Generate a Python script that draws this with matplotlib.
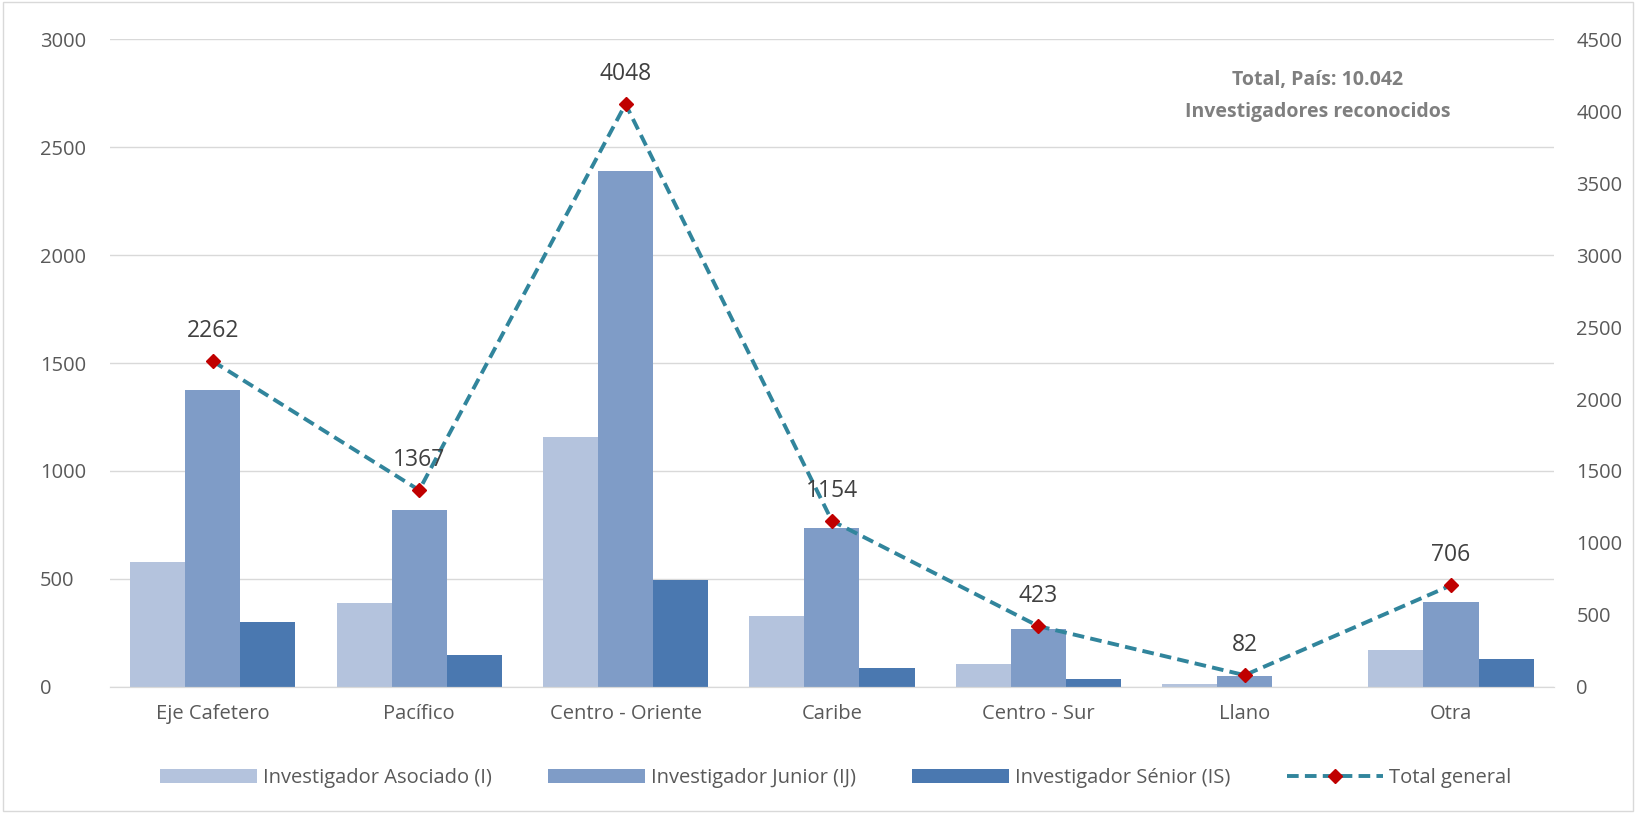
import matplotlib.pyplot as plt
import numpy as np

plt.rcParams['font.family'] = ['Open Sans', 'DejaVu Sans']

regiones = ['Eje Cafetero', 'Pacífico', 'Centro - Oriente', 'Caribe',
            'Centro - Sur', 'Llano', 'Otra']
asociado = [578, 388, 1159, 328, 108, 12, 172]
junior = [1377, 821, 2391, 734, 268, 52, 394]
senior = [299, 146, 495, 87, 38, 0, 128]
total = [2262, 1367, 4048, 1154, 423, 82, 706]

c_asoc = '#B4C3DD'
c_jun = '#7F9CC7'
c_sen = '#4A78B0'
gris = '#595959'

fig = plt.figure(figsize=(16.36, 8.13), dpi=100)
ax = fig.add_axes([0.067, 0.155, 0.883, 0.797])
ax2 = ax.twinx()

x = np.arange(len(regiones))
w = 0.267
b1 = ax.bar(x - w, asociado, w, color=c_asoc, label='Investigador Asociado (I)')
b2 = ax.bar(x, junior, w, color=c_jun, label='Investigador Junior (IJ)')
b3 = ax.bar(x + w, senior, w, color=c_sen, label='Investigador Sénior (IS)')

ln, = ax2.plot(x, total, linestyle=(0, (3, 1.6)), color='#31859C', linewidth=2.8,
               marker='D', markersize=7, markerfacecolor='#C00000',
               markeredgecolor='#C00000', label='Total general')
for xi, t in zip(x, total):
    ax2.annotate(str(t), (xi, t), xytext=(0, 13), textcoords='offset points',
                 ha='center', va='bottom', fontsize=16.5, color='#404040')

ax.set_xlim(-0.5, len(regiones) - 0.5)
ax.set_ylim(0, 3000)
ax.set_yticks(range(0, 3001, 500))
ax2.set_ylim(0, 4500)
ax2.set_yticks(range(0, 4501, 500))
ax.set_xticks(x)
ax.set_xticklabels(regiones)

ax.grid(axis='y', color='#D9D9D9', linewidth=1)
ax.set_axisbelow(True)
for a in (ax, ax2):
    for s in ['top', 'left', 'right']:
        a.spines[s].set_visible(False)
    a.spines['bottom'].set_color('#D9D9D9')
    a.tick_params(length=0, labelsize=14.5, colors=gris)
ax.tick_params(axis='x', pad=12)
ax.tick_params(axis='y', pad=50)
ax2.tick_params(axis='y', pad=16)
for lbl in ax.get_yticklabels():
    lbl.set_horizontalalignment('left')

ax2.text(0.836, 0.912, 'Total, País: 10.042\nInvestigadores reconocidos',
         transform=ax2.transAxes, ha='center', va='center', fontsize=14,
         fontweight='bold', color='#7F7F7F', linespacing=1.75)

fig.legend(handles=[b1, b2, b3, ln], loc='center', bbox_to_anchor=(0.511, 0.043),
           ncol=4, frameon=False, fontsize=14.5, labelcolor=gris,
           handlelength=4.8, columnspacing=2.8, handletextpad=0.3)

fig.patches.append(plt.Rectangle((0.002, 0.002), 0.996, 0.996, transform=fig.transFigure,
                                 fill=False, edgecolor='#D9D9D9', linewidth=1))

fig.savefig('out.png', dpi=100)
